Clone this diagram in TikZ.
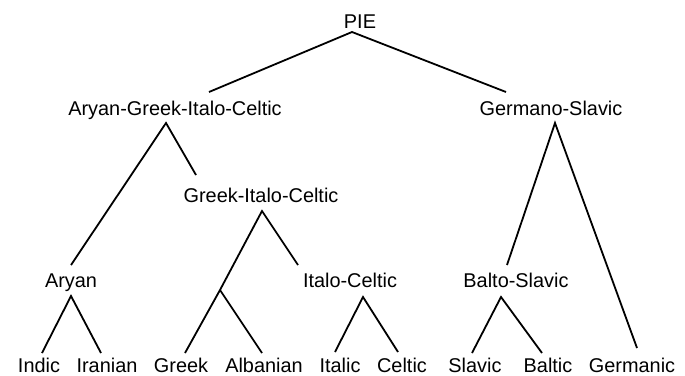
\documentclass[tikz,border=0pt]{standalone}
\usepackage{fontspec}
\setmainfont{Liberation Sans}
\begin{document}
\begin{tikzpicture}[x=1pt,y=-1pt,
  lbl/.style={anchor=base,inner sep=0pt,font=\fontsize{19.9}{24}\selectfont},
  edge/.style={line width=1.8pt}]
\useasboundingbox (0,0) rectangle (685,375);
% labels
\node[lbl] (pie)  at (360,28)  {PIE};
\node[lbl] (agic) at (175,115) {Aryan-Greek-Italo-Celtic};
\node[lbl] (gs)   at (551,115) {Germano-Slavic};
\node[lbl] (gic)  at (261,202) {Greek-Italo-Celtic};
\node[lbl] (ary)  at (71,287)  {Aryan};
\node[lbl] (ic)   at (350,287) {Italo-Celtic};
\node[lbl] (bs)   at (516,287) {Balto-Slavic};
\node[lbl] (ind)  at (39,372)  {Indic};
\node[lbl] (ira)  at (107,372) {Iranian};
\node[lbl] (gre)  at (181,372) {Greek};
\node[lbl] (alb)  at (264,372) {Albanian};
\node[lbl] (ita)  at (340,372) {Italic};
\node[lbl] (cel)  at (402,372) {Celtic};
\node[lbl] (sla)  at (475,372) {Slavic};
\node[lbl] (bal)  at (548,372) {Baltic};
\node[lbl] (ger)  at (632,372) {Germanic};
% connector points
\coordinate (pieA)  at (352,32);
\coordinate (agicT) at (209,92);
\coordinate (gsT)   at (506,92);
\coordinate (agicA) at (166,123);
\coordinate (aryT)  at (71,265);
\coordinate (gicT)  at (196,175);
\coordinate (gicA)  at (262,211);
\coordinate (greT)  at (185,353);
\coordinate (junc)  at (220,290);
\coordinate (albT)  at (262,353);
\coordinate (icT)   at (298,265);
\coordinate (aryA)  at (71,296);
\coordinate (indT)  at (42,353);
\coordinate (iraT)  at (101,353);
\coordinate (icA)   at (363,297);
\coordinate (itaT)  at (335,352);
\coordinate (celT)  at (398,352);
\coordinate (bsA)   at (501,297);
\coordinate (slaT)  at (472,353);
\coordinate (balT)  at (542,353);
\coordinate (gsA)   at (555,123);
\coordinate (bsT)   at (507,265);
\coordinate (gerT)  at (637,348);
% edges
\draw[edge] (agicT) -- (pieA) -- (gsT);
\draw[edge] (aryT) -- (agicA) -- (gicT);
\draw[edge] (greT) -- (junc) -- (gicA) -- (icT);
\draw[edge] (junc) -- (albT);
\draw[edge] (indT) -- (aryA) -- (iraT);
\draw[edge] (itaT) -- (icA) -- (celT);
\draw[edge] (slaT) -- (bsA) -- (balT);
\draw[edge] (bsT) -- (gsA) -- (gerT);
\end{tikzpicture}
\end{document}
